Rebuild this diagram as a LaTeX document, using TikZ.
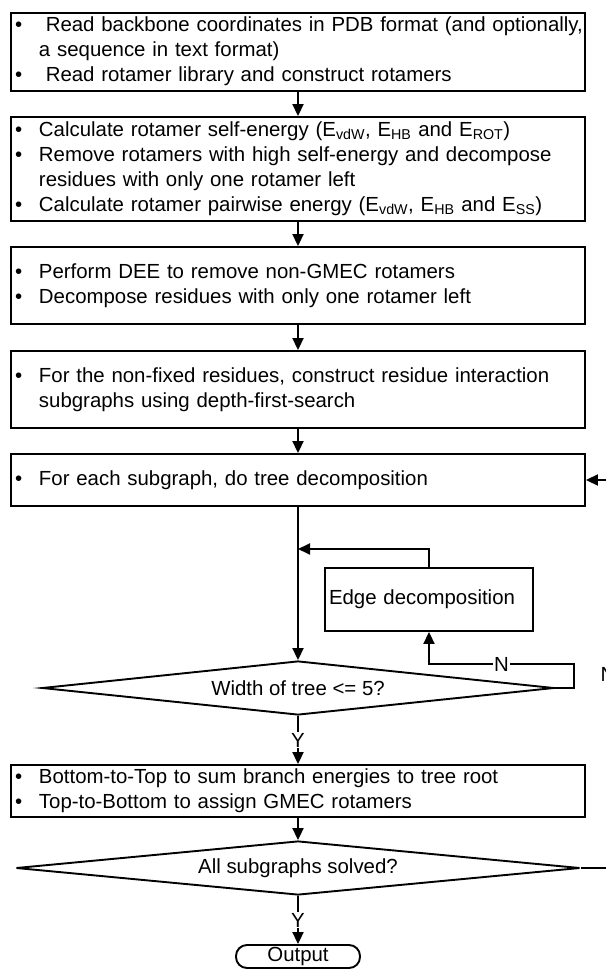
\documentclass[tikz,border=0pt]{standalone}
\usepackage{fontspec}
\setmainfont{Liberation Sans}
\usetikzlibrary{shapes.geometric,arrows.meta}

\newcommand{\Esub}[1]{E\textsubscript{#1}}

\begin{document}
\begin{tikzpicture}[x=1pt,y=-1pt,
  every node/.style={font=\fontsize{20.4}{25}\selectfont},
  stepbox/.style={draw, line width=1.9pt, text width=566pt, inner xsep=4pt, inner ysep=0pt, align=left},
  testbox/.style={draw, line width=1.9pt, shape=diamond, aspect=9, inner sep=0pt, minimum width=#1, minimum height=54pt},
  arr/.style={line width=1.9pt, -{Triangle[width=11pt,length=12pt]}},
  lbl/.style={fill=white, inner sep=1pt}]
\useasboundingbox (0,0) rectangle (605,973);

\node[stepbox, minimum height=78pt] (read) at (298,52) {\begin{tabular}{@{}p{24pt}@{}l@{}}
\textbullet & \ Read backbone coordinates in PDB format (and optionally,\\
 & a sequence in text format)\\
\textbullet & \ Read rotamer library and construct rotamers
\end{tabular}};
\node[stepbox, minimum height=104pt] (energy) at (298,169) {\begin{tabular}{@{}p{24pt}@{}l@{}}
\textbullet & Calculate rotamer self-energy (\Esub{vdW}, \Esub{HB} and \Esub{ROT})\\
\textbullet & Remove rotamers with high self-energy and decompose\\
 & residues with only one rotamer left\\
\textbullet & Calculate rotamer pairwise energy (\Esub{vdW}, \Esub{HB} and \Esub{SS})
\end{tabular}};
\node[stepbox, minimum height=77pt] (dee) at (298,285.5) {\begin{tabular}{@{}p{24pt}@{}l@{}}
\textbullet & Perform DEE to remove non-GMEC rotamers\\
\textbullet & Decompose residues with only one rotamer left
\end{tabular}};
\node[stepbox, minimum height=77pt] (graph) at (298,389.5) {\begin{tabular}{@{}p{24pt}@{}l@{}}
\textbullet & For the non-fixed residues, construct residue interaction\\
 & subgraphs using depth-first-search
\end{tabular}};
\node[stepbox, minimum height=52pt] (tree) at (298,480) {\begin{tabular}{@{}p{24pt}@{}l@{}}
\textbullet & For each subgraph, do tree decomposition
\end{tabular}};
\node[draw, line width=1.9pt, text width=200pt, inner xsep=4pt, minimum height=63pt, align=left] (edge) at (429,599.5) {Edge decomposition};
\node[testbox=512pt] (width) at (298,688) {Width of tree <= 5?};
\node[stepbox, minimum height=52pt] (sum) at (298,791) {\begin{tabular}{@{}p{24pt}@{}l@{}}
\textbullet & Bottom-to-Top to sum branch energies to tree root\\
\textbullet & Top-to-Bottom to assign GMEC rotamers
\end{tabular}};
\node[testbox=564pt] (solved) at (298,868) {All subgraphs solved?};
\node[draw, line width=1.9pt, rounded corners=11pt, minimum width=124pt, minimum height=23pt, inner sep=0pt] (out) at (298,956.5) {Output};

\coordinate (join) at (298,549);
\coordinate (nturn) at (574,664);
\coordinate (oturn) at (608,480);

\draw[arr] (read.south) -- (energy.north);
\draw[arr] (energy.south) -- (dee.north);
\draw[arr] (dee.south) -- (graph.north);
\draw[arr] (graph.south) -- (tree.north);
\draw[arr] (tree.south) -- (width.north);
\draw[arr] (edge.north) |- (join);
\draw[arr] (width.east) -| (nturn) -- node[lbl]{N} (nturn -| edge.south) -- (edge.south);
\draw[arr] (width.south) -- node[lbl]{Y} (sum.north);
\draw[arr] (sum.south) -- (solved.north);
\draw[arr] (solved.south) -- node[lbl]{Y} (out.north);
\draw[arr] (solved.east) -- (solved.east -| oturn) -- node[lbl]{N} (oturn) -- (tree.east);
\end{tikzpicture}
\end{document}
